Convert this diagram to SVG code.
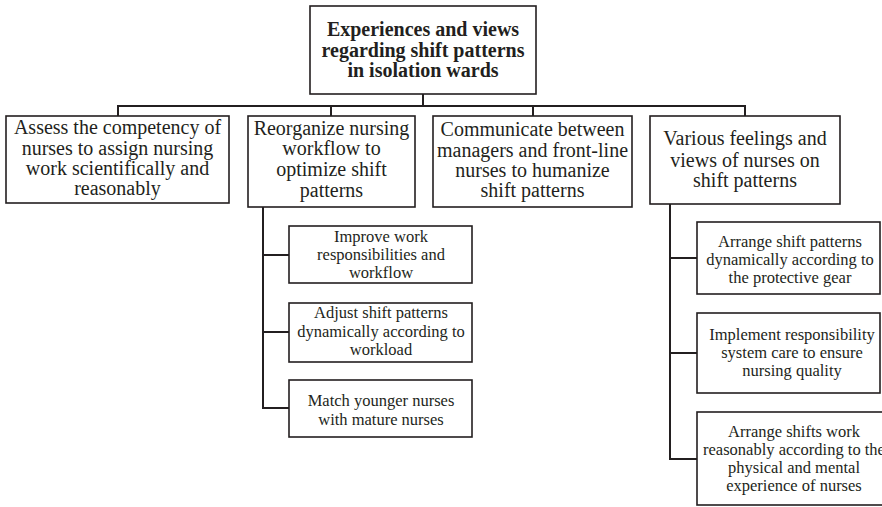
<svg xmlns="http://www.w3.org/2000/svg" width="882" height="507" viewBox="0 0 882 507">
<style>
rect{fill:#fff;stroke:#231f20;stroke-width:1.6}
text{font-family:"Liberation Serif","Times New Roman",serif;fill:#231f20;text-anchor:middle}
.t{font-size:20px;font-weight:bold}
.m{font-size:20px}
.s{font-size:16.5px}
#connectors path{fill:none;stroke:#231f20;stroke-width:2}
</style>
<rect x="0" y="0" width="882" height="507" style="fill:#fff;stroke:none"/>
<g id="connectors">
<path d="M423 94V106M118 116V106H745V116M331 106V116M533 106V116"/>
<path d="M263 207V408H289M263 255H289M263 332H289"/>
<path d="M670 204V459H697M670 258H697M670 353H697"/>
</g>
<g id="root">
<rect x="310" y="6" width="226" height="88"/>
<text class="t" x="423" y="36">Experiences and views</text>
<text class="t" x="423" y="57">regarding shift patterns</text>
<text class="t" x="423" y="77">in isolation wards</text>
</g>
<g id="n1">
<rect x="6" y="116" width="223" height="87"/>
<text class="m" x="117.5" y="134">Assess the competency of</text>
<text class="m" x="117.5" y="155">nurses to assign nursing</text>
<text class="m" x="117.5" y="175">work scientifically and</text>
<text class="m" x="117.5" y="195">reasonably</text>
</g>
<g id="n2">
<rect x="248" y="116" width="167" height="91"/>
<text class="m" x="331.5" y="135">Reorganize nursing</text>
<text class="m" x="331.5" y="155">workflow to</text>
<text class="m" x="331.5" y="176">optimize shift</text>
<text class="m" x="331.5" y="197">patterns</text>
</g>
<g id="n3">
<rect x="433" y="116" width="199" height="91"/>
<text class="m" x="532.5" y="136">Communicate between</text>
<text class="m" x="532.5" y="157">managers and front-line</text>
<text class="m" x="532.5" y="177">nurses to humanize</text>
<text class="m" x="532.5" y="197">shift patterns</text>
</g>
<g id="n4">
<rect x="650" y="116" width="190" height="88"/>
<text class="m" x="745" y="145">Various feelings and</text>
<text class="m" x="745" y="167">views of nurses on</text>
<text class="m" x="745" y="187">shift patterns</text>
</g>
<g id="n2a">
<rect x="289" y="226" width="183" height="57"/>
<text class="s" x="381" y="242">Improve work</text>
<text class="s" x="381" y="260">responsibilities and</text>
<text class="s" x="381" y="278">workflow</text>
</g>
<g id="n2b">
<rect x="289" y="303" width="183" height="59"/>
<text class="s" x="381" y="318">Adjust shift patterns</text>
<text class="s" x="381" y="337">dynamically according to</text>
<text class="s" x="381" y="355">workload</text>
</g>
<g id="n2c">
<rect x="289" y="380" width="183" height="57"/>
<text class="s" x="381" y="406">Match younger nurses</text>
<text class="s" x="381" y="425">with mature nurses</text>
</g>
<g id="n4a">
<rect x="697" y="222" width="183" height="72"/>
<text class="s" x="790" y="247">Arrange shift patterns</text>
<text class="s" x="790" y="265">dynamically according to</text>
<text class="s" x="790" y="283">the protective gear</text>
</g>
<g id="n4b">
<rect x="697" y="313" width="183" height="80"/>
<text class="s" x="792" y="340">Implement responsibility</text>
<text class="s" x="792" y="358">system care to ensure</text>
<text class="s" x="792" y="376">nursing quality</text>
</g>
<g id="n4c">
<rect x="697" y="412" width="195" height="93"/>
<text class="s" x="794" y="437">Arrange shifts work</text>
<text class="s" x="794" y="455">reasonably according to the</text>
<text class="s" x="794" y="473">physical and mental</text>
<text class="s" x="794" y="491">experience of nurses</text>
</g>
</svg>
